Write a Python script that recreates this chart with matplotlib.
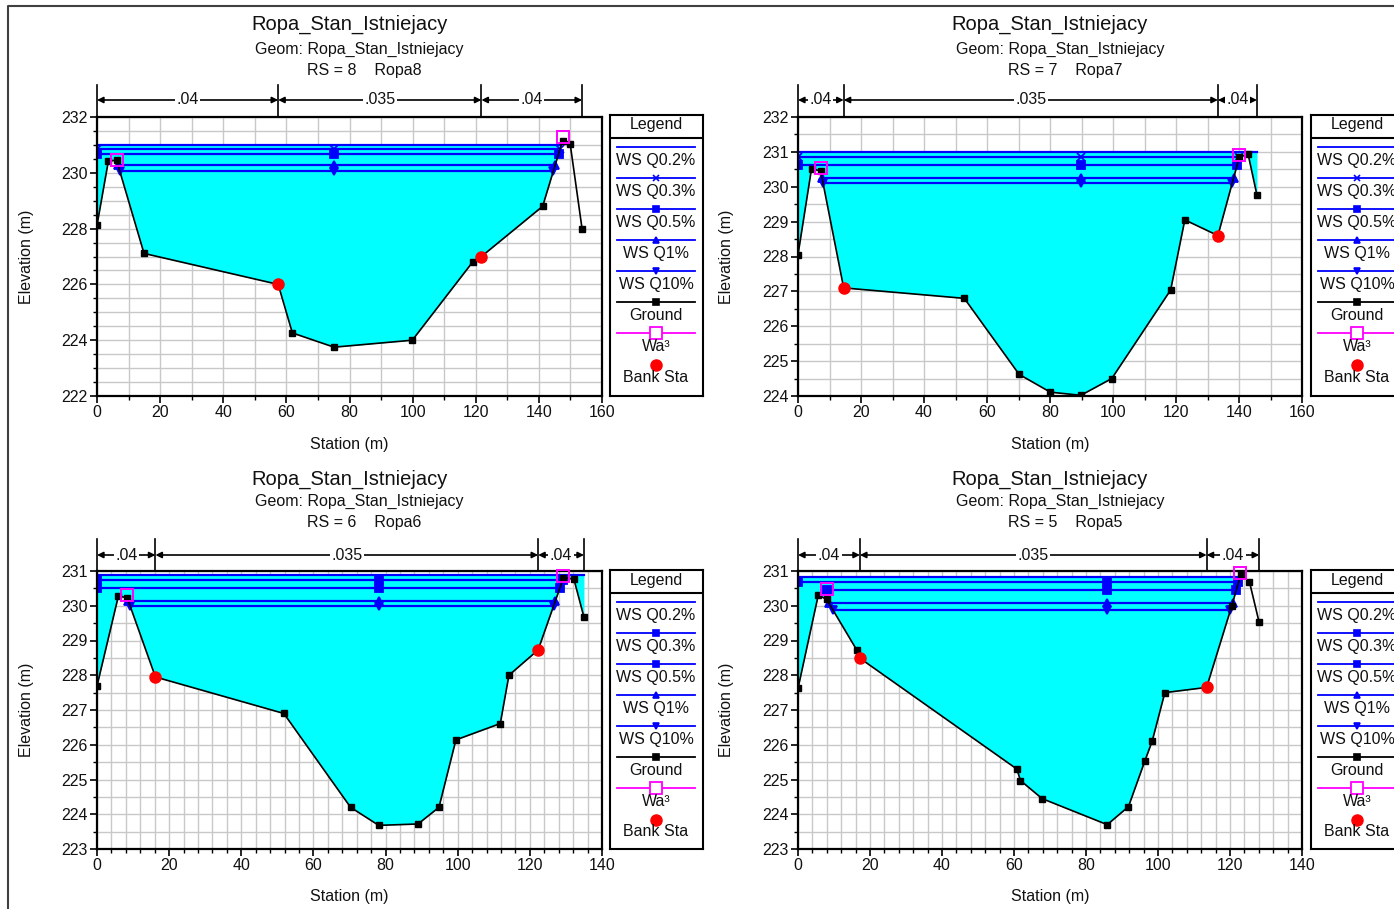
import numpy as np
import matplotlib
matplotlib.use('Agg')
import matplotlib.pyplot as plt
from matplotlib.lines import Line2D

plt.rcParams['font.family'] = ['Liberation Sans', 'DejaVu Sans']

W, H = 1394, 909

title = 'Ropa_Stan_Istniejacy'
geom = 'Geom: Ropa_Stan_Istniejacy'
ws_names = ['WS Q0.2%', 'WS Q0.3%', 'WS Q0.5%', 'WS Q1%', 'WS Q10%']

# RS 8 - Ropa8
st8 = [0, 3.6, 6.2, 14.9, 57.4, 61.9, 75.1, 99.9, 119.0, 121.8, 141.2, 147.5, 149.9, 153.7]
el8 = [228.12, 230.42, 230.45, 227.11, 226.0, 224.26, 223.75, 224.0, 226.8, 227.0, 228.8, 231.15, 231.05, 227.98]
ws8 = [231.0, 230.85, 230.68, 230.27, 230.08]
bank8 = [57.4, 121.8]
levee8 = [(6.2, 230.45), (147.5, 231.3)]

# RS 7 - Ropa7
st7 = [0, 4.3, 7.2, 14.5, 52.8, 70.2, 80.1, 89.8, 99.6, 118.3, 122.8, 133.3, 140.1, 142.9, 145.7]
el7 = [228.05, 230.52, 230.45, 227.1, 226.8, 224.62, 224.11, 224.02, 224.5, 227.04, 229.05, 228.6, 230.85, 230.93, 229.76]
ws7 = [231.0, 230.84, 230.63, 230.24, 230.10]
bank7 = [14.5, 133.3]
levee7 = [(7.2, 230.55), (140.1, 230.9)]

# RS 6 - Ropa6
st6 = [0, 5.95, 8.4, 16.2, 51.8, 70.3, 78.1, 89.0, 94.8, 99.5, 111.8, 114.2, 122.3, 129.3, 132.2, 135.0]
el6 = [227.69, 230.29, 230.22, 227.95, 226.9, 224.2, 223.68, 223.72, 224.2, 226.14, 226.61, 228.0, 228.73, 230.8, 230.77, 229.67]
ws6 = [230.89, 230.73, 230.51, 230.15, 230.0]
bank6 = [16.2, 122.3]
levee6 = [(8.4, 230.3), (129.3, 230.87)]

# RS 5 - Ropa5
st5 = [0, 5.64, 7.97, 16.3, 17.2, 60.8, 61.8, 67.8, 85.9, 91.8, 96.3, 98.4, 101.9, 113.5, 120.5, 123.0, 125.4, 128.1]
el5 = [227.62, 230.31, 230.18, 228.73, 228.49, 225.3, 224.97, 224.45, 223.7, 224.22, 225.52, 226.11, 227.5, 227.65, 230.0, 230.9, 230.69, 229.52]
ws5 = [230.84, 230.67, 230.44, 230.08, 229.87]
bank5 = [17.2, 113.5]
levee5 = [(7.97, 230.47), (122.8, 230.93)]

n_vals = ['.04', '.035', '.04']

BLUE = '#0000ff'
CYAN = '#00ffff'
MAG = '#ff00ff'
GRID = '#c8c8c8'
TXT = '#111111'
FS = 11.5


def edge(st, el, ws, levees, i0, step):
    # walk from the thalweg outwards until ground (or a levee) rises above ws
    i = i0
    while 0 <= i + step < len(st):
        j = i + step
        for ls, le in levees:
            if le > ws and min(st[i], st[j]) <= ls <= max(st[i], st[j]):
                if np.interp(ls, st, el) < ws:
                    return ls
        if el[j] >= ws:
            return st[i] + (ws - el[i]) / (el[j] - el[i]) * (st[j] - st[i])
        i = j
    return st[i]


def add_axes_px(l, t, r, b):
    return fig.add_axes([l / W, 1 - b / H, (r - l) / W, (b - t) / H])


panels = [
    dict(st=st8, el=el8, ws=ws8, bank=bank8, lev=levee8, rs='RS = 8    Ropa8',
         box=(97, 117, 602, 396), leg=(610, 115, 703, 396), ylim=(222, 232), ymaj=2,
         xlim=(0, 160), xmin=10, ttl=(24, 49, 71), brk=(85, 100), xlab=445, elx=27, q03='x'),
    dict(st=st7, el=el7, ws=ws7, bank=bank7, lev=levee7, rs='RS = 7    Ropa7',
         box=(798, 117, 1302, 396), leg=(1311, 115, 1404, 396), ylim=(224, 232), ymaj=1,
         xlim=(0, 160), xmin=10, ttl=(24, 49, 71), brk=(85, 100), xlab=445, elx=727, q03='x'),
    dict(st=st6, el=el6, ws=ws6, bank=bank6, lev=levee6, rs='RS = 6    Ropa6',
         box=(97, 571, 602, 849), leg=(610, 570, 703, 849), ylim=(223, 231), ymaj=1,
         xlim=(0, 140), xmin=4, ttl=(479, 501, 522), brk=(539, 555), xlab=897, elx=27, q03='s'),
    dict(st=st5, el=el5, ws=ws5, bank=bank5, lev=levee5, rs='RS = 5    Ropa5',
         box=(798, 571, 1302, 849), leg=(1311, 570, 1404, 849), ylim=(223, 231), ymaj=1,
         xlim=(0, 140), xmin=4, ttl=(479, 501, 522), brk=(539, 555), xlab=897, elx=727, q03='s'),
]

fig = plt.figure(figsize=(W / 100, H / 100), dpi=100)

# outer frame
fig.add_artist(Line2D([8 / W, 8 / W, 1.01], [-0.01, 1 - 6 / H, 1 - 6 / H],
                      transform=fig.transFigure, color='#404040', lw=1.5))

for p in panels:
    st = np.array(p['st'], float)
    el = np.array(p['el'], float)
    l, t, r, b = p['box']
    ax = add_axes_px(l, t, r, b)
    axh = b - t
    cx = (l + r) / 2

    ax.set_xlim(*p['xlim'])
    ax.set_ylim(*p['ylim'])
    ax.set_xticks(np.arange(p['xlim'][0], p['xlim'][1] + 1, 20))
    ax.set_xticks(np.arange(p['xlim'][0], p['xlim'][1] + 0.1, p['xmin']), minor=True)
    ax.set_yticks(np.arange(p['ylim'][0], p['ylim'][1] + 0.1, p['ymaj']))
    ax.set_yticks(np.arange(p['ylim'][0], p['ylim'][1] + 0.01, 0.5), minor=True)
    ax.grid(which='both', color=GRID, lw=1)
    ax.set_axisbelow(True)
    ax.tick_params(which='major', length=5, width=1.2, labelsize=FS, pad=1.5,
                   labelcolor=TXT)
    ax.tick_params(which='minor', length=3, width=1)
    for s in ax.spines.values():
        s.set_linewidth(1.6)

    i0 = int(np.argmin(el))
    thal = st[i0]
    markers = [None, p['q03'], 's', '^', 'v']
    for k, w in enumerate(p['ws']):
        xl = edge(st, el, w, p['lev'], i0, -1)
        xr = edge(st, el, w, p['lev'], i0, 1)
        if k == 0:
            inner = st[(st > xl) & (st < xr)]
            xs = np.concatenate([[xl], inner, [xr]])
            gs = np.interp(xs, st, el)
            ax.fill_between(xs, gs, w, color=CYAN, lw=0, zorder=1)
        ax.plot([xl, xr], [w, w], color=BLUE, lw=1.6, zorder=2)
        if markers[k]:
            ax.plot([xl, thal, xr], [w, w, w], ls='none', marker=markers[k],
                    ms=5.5, color=BLUE, mew=1.3, zorder=2.5)

    ax.plot(st, el, color='k', lw=1.2, marker='s', ms=5, zorder=3)
    bx = np.array(p['bank'])
    ax.plot(bx, np.interp(bx, st, el), ls='none', marker='o', ms=8, color='red', zorder=4)
    lv = np.array(p['lev'])
    ax.plot(lv[:, 0], lv[:, 1], ls='none', marker='s', ms=8.5, mfc='none', mec=MAG,
            mew=1.4, zorder=4, clip_on=False)

    # manning n brackets
    ytop = 1 + (t - p['brk'][0]) / axh
    ybr = 1 + (t - p['brk'][1]) / axh
    tr = ax.get_xaxis_transform()
    nx = [st[0], bx[0], bx[1], st[-1]]
    for xv in nx:
        ax.plot([xv, xv], [1, ytop], color='k', lw=1.2, transform=tr, clip_on=False)
    for a, c, lab in zip(nx[:-1], nx[1:], n_vals):
        ax.annotate('', xy=(a, ybr), xytext=(c, ybr), xycoords=tr, textcoords=tr,
                    arrowprops=dict(arrowstyle='<|-|>', color='k', lw=1.2,
                                    mutation_scale=9, shrinkA=0, shrinkB=0))
        ax.text((a + c) / 2, ybr, lab, transform=tr, ha='center', va='center',
                fontsize=FS, color=TXT,
                bbox=dict(facecolor='white', edgecolor='none', pad=1))

    # titles and axis labels
    fig.text(cx / W, 1 - p['ttl'][0] / H, title, ha='center', va='center',
             fontsize=14.5, color=TXT)
    fig.text((cx + 10) / W, 1 - p['ttl'][1] / H, geom, ha='center', va='center',
             fontsize=11.5, color=TXT)
    fig.text((cx + 15) / W, 1 - p['ttl'][2] / H, p['rs'], ha='center', va='center',
             fontsize=11.5, color=TXT)
    fig.text(cx / W, 1 - p['xlab'] / H, 'Station (m)', ha='center', va='center',
             fontsize=FS, color=TXT)
    fig.text(p['elx'] / W, 1 - ((t + b) / 2) / H, 'Elevation (m)', ha='center', va='center',
             rotation=90, fontsize=FS, color=TXT)

    # legend box
    ll, lt, lr, lb = p['leg']
    lax = add_axes_px(ll, lt, lr, lb)
    lh = lb - lt
    lax.set_xlim(0, lr - ll)
    lax.set_ylim(lh, 0)
    lax.set_xticks([])
    lax.set_yticks([])
    for s in lax.spines.values():
        s.set_linewidth(1.5)
    lax.text(46, 10, 'Legend', ha='center', va='center', fontsize=FS, color=TXT)
    lax.axhline(23, color='k', lw=1.5)
    entries = [(n, BLUE, m) for n, m in zip(ws_names, markers)]
    entries += [('Ground', 'k', 's'), ('Wa\u00b3', MAG, 'S')]
    for k, (name, col, mk) in enumerate(entries):
        yl = 32 + 31 * k
        lax.plot([7, 85], [yl, yl], color=col, lw=1.3)
        if mk == 'S':
            lax.plot([46], [yl], marker='s', ms=8, mfc='white', mec=col, mew=1.3)
        elif mk:
            lax.plot([46], [yl], marker=mk, ms=5, color=col, mew=1.2)
        lax.text(46, yl + 13.5, name, ha='center', va='center', fontsize=FS, color=TXT)
    lax.plot([46], [250], marker='o', ms=8, color='red')
    lax.text(46, 262, 'Bank Sta', ha='center', va='center', fontsize=FS, color=TXT)

fig.savefig('out.png', dpi=100)
